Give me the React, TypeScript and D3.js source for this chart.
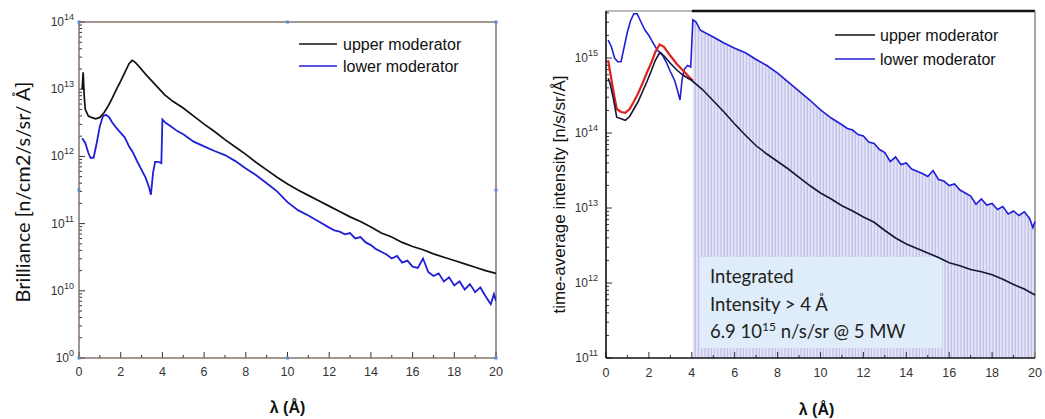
import React from "react";
import * as d3 from "d3";

// ---------- DATA (log10 of the plotted values) ----------
// Left panel: Brilliance
const leftUpperLambda = [0.15, 0.2, 0.25, 0.3, 0.45, 0.6, 0.8, 1.0, 1.2, 1.4, 1.6, 1.8, 2.0, 2.2, 2.4, 2.55, 2.7, 2.9, 3.2, 3.5, 3.8, 4.1, 4.5, 5.0, 5.5, 6.0, 6.5, 7.0, 7.5, 8.0, 8.5, 9.0, 9.5, 10, 10.5, 11, 11.5, 12, 12.5, 13, 13.5, 14, 14.5, 15, 15.5, 16, 16.5, 17, 17.5, 18, 18.5, 19, 19.5, 20];
const leftUpperLog = [13.0, 13.25, 12.9, 12.7, 12.6, 12.58, 12.56, 12.58, 12.65, 12.75, 12.87, 13.0, 13.12, 13.25, 13.38, 13.43, 13.4, 13.33, 13.22, 13.12, 13.02, 12.92, 12.82, 12.72, 12.6, 12.48, 12.37, 12.25, 12.14, 12.03, 11.91, 11.8, 11.69, 11.59, 11.5, 11.42, 11.34, 11.26, 11.18, 11.1, 11.03, 10.95, 10.86, 10.8, 10.72, 10.66, 10.61, 10.55, 10.5, 10.45, 10.4, 10.35, 10.3, 10.26];

const leftLowerLambda = [0.15, 0.3, 0.45, 0.55, 0.7, 0.85, 1.0, 1.15, 1.3, 1.45, 1.6, 1.8, 2.0, 2.2, 2.4, 2.6, 2.8, 3.0, 3.2, 3.35, 3.45, 3.55, 3.65, 3.8, 3.95, 4.0, 4.15, 4.4, 4.7, 5.0, 5.5, 6.0, 6.5, 7.0, 7.5, 8.0, 8.5, 9.0, 9.5, 10, 10.5, 11, 11.5, 12.0, 12.25, 12.5, 12.75, 13.0, 13.25, 13.5, 13.75, 14.0, 14.25, 14.5, 14.75, 15.0, 15.25, 15.5, 15.75, 16.0, 16.25, 16.5, 16.75, 17.0, 17.25, 17.5, 17.75, 18.0, 18.25, 18.5, 18.75, 19.0, 19.25, 19.5, 19.75, 19.9, 20];
const leftLowerLog = [12.27, 12.2, 12.05, 11.98, 11.98, 12.2, 12.45, 12.6, 12.62, 12.58, 12.5, 12.42, 12.35, 12.28, 12.15, 12.05, 11.92, 11.8, 11.68, 11.55, 11.43, 11.75, 11.92, 11.92, 11.9, 12.55, 12.5, 12.45, 12.38, 12.33, 12.22, 12.15, 12.08, 12.02, 11.93, 11.82, 11.72, 11.6, 11.48, 11.32, 11.2, 11.12, 11.03, 10.94, 10.9, 10.88, 10.84, 10.86, 10.78, 10.8, 10.72, 10.68, 10.62, 10.58, 10.54, 10.48, 10.52, 10.42, 10.45, 10.36, 10.34, 10.48, 10.28, 10.22, 10.26, 10.14, 10.2, 10.08, 10.14, 10.02, 10.1, 9.98, 10.05, 9.92, 9.8, 9.95, 9.85];

// Right panel: time-average intensity
const rightUpperLambda = [0.1, 0.2, 0.35, 0.5, 0.7, 0.9, 1.1, 1.3, 1.5, 1.7, 1.9, 2.1, 2.3, 2.5, 2.7, 3.0, 3.3, 3.6, 4.0, 4.5, 5.0, 5.5, 6.0, 6.5, 7.0, 7.5, 8.0, 8.5, 9.0, 9.5, 10, 10.5, 11, 11.5, 12, 12.5, 13, 13.5, 14, 14.5, 15, 15.5, 16, 16.5, 17, 17.5, 18, 18.5, 19, 19.5, 20];
const rightUpperLog = [14.73, 14.65, 14.45, 14.21, 14.19, 14.17, 14.22, 14.32, 14.42, 14.55, 14.68, 14.82, 14.97, 15.07, 15.03, 14.93, 14.84, 14.77, 14.7, 14.58, 14.43, 14.28, 14.12, 13.97, 13.83, 13.72, 13.62, 13.52, 13.41, 13.3, 13.2, 13.12, 13.03, 12.96, 12.88, 12.81, 12.7, 12.6, 12.52, 12.46, 12.4, 12.34, 12.27, 12.23, 12.18, 12.15, 12.11, 12.05, 11.98, 11.92, 11.84];

const rightRedLambda = [0.1, 0.2, 0.35, 0.5, 0.7, 0.9, 1.1, 1.3, 1.5, 1.7, 1.9, 2.1, 2.3, 2.5, 2.7, 3.0, 3.3, 3.6, 3.9, 4.05];
const rightRedLog = [14.97, 14.8, 14.55, 14.32, 14.28, 14.27, 14.32, 14.42, 14.53, 14.66, 14.8, 14.93, 15.08, 15.18, 15.15, 15.03, 14.92, 14.83, 14.74, 14.7];

const rightLowerLambda = [0.1, 0.25, 0.4, 0.55, 0.7, 0.85, 1.0, 1.15, 1.3, 1.45, 1.6, 1.8, 2.0, 2.2, 2.4, 2.6, 2.8, 3.0, 3.2, 3.35, 3.45, 3.55, 3.65, 3.8, 3.95, 4.05, 4.2, 4.4, 5.0, 5.5, 6.0, 6.5, 7.0, 7.5, 8.0, 8.5, 9.0, 9.5, 10, 10.5, 11.0, 11.25, 11.5, 11.75, 12.0, 12.25, 12.5, 12.75, 13.0, 13.25, 13.5, 13.75, 14.0, 14.25, 14.5, 14.75, 15.0, 15.25, 15.5, 15.75, 16.0, 16.25, 16.5, 16.75, 17.0, 17.25, 17.5, 17.75, 18.0, 18.25, 18.5, 18.75, 19.0, 19.25, 19.5, 19.75, 19.9, 20];
const rightLowerLog = [15.24, 15.15, 15.0, 14.95, 14.95, 15.15, 15.35, 15.5, 15.59, 15.59, 15.5, 15.38, 15.3, 15.2, 15.1, 15.06, 14.95, 14.82, 14.7, 14.55, 14.44, 14.72, 14.85, 14.9, 14.88, 15.51, 15.48, 15.37, 15.28, 15.2, 15.13, 15.07, 14.98, 14.9, 14.8, 14.68, 14.56, 14.44, 14.31, 14.2, 14.11, 14.06, 14.04, 13.98, 13.96, 13.88, 13.86, 13.78, 13.74, 13.62, 13.68, 13.58, 13.6, 13.52, 13.49, 13.46, 13.42, 13.5, 13.38, 13.36, 13.3, 13.32, 13.24, 13.2, 13.16, 13.05, 13.12, 13.04, 13.06, 12.98, 13.02, 12.92, 12.96, 12.9, 12.95, 12.86, 12.74, 12.82];

const xTickValues = [0, 2, 4, 6, 8, 10, 12, 14, 16, 18, 20];
const leftYTickValues = [1e14, 1e13, 1e12, 1e11, 1e10, 1e9];
const leftYTickExp = ["14", "13", "12", "11", "10", "0"];
const rightYTickValues = [1e15, 1e14, 1e13, 1e12, 1e11];
const rightYTickExp = ["15", "14", "13", "12", "11"];
const legendLabels = ["upper moderator", "lower moderator"];
const annotationLines = ["Integrated", "Intensity > 4 Å"];
const integratedShadeStart = 4.05;

const ARIAL = "'Liberation Sans', Arial, sans-serif";
const CALIBRI = "Lato, 'Open Sans', sans-serif";

function zip(l: number[], v: number[]): [number, number][] {
  return l.map((x, i) => [x, Math.pow(10, v[i])]);
}

export default function App() {
  const xL = d3.scaleLinear().domain([0, 20]).range([79, 496]);
  const yL = d3.scaleLog().domain([1e9, 1e14]).range([358, 22]);
  const xR = d3.scaleLinear().domain([0, 20]).range([606, 1035]);
  const yR = d3.scaleLog().domain([1e11, Math.pow(10, 15.627)]).range([358, 11]);

  const lineL = d3.line<[number, number]>().x((d) => xL(d[0])).y((d) => yL(d[1]));
  const lineR = d3.line<[number, number]>().x((d) => xR(d[0])).y((d) => yR(d[1]));

  const lu = zip(leftUpperLambda, leftUpperLog);
  const ll = zip(leftLowerLambda, leftLowerLog);
  const ru = zip(rightUpperLambda, rightUpperLog);
  const rr = zip(rightRedLambda, rightRedLog);
  const rl = zip(rightLowerLambda, rightLowerLog);

  const shade = d3
    .area<[number, number]>()
    .x((d) => xR(d[0]))
    .y0(yR.range()[0])
    .y1((d) => yR(d[1]))(rl.filter((d) => d[0] >= integratedShadeStart));

  const axisCol = "#7b6a5f";
  const [lb, lt] = yL.range();
  const [rb, rt] = yR.range();

  const leftMinor = yL.ticks();
  const rightMinor = yR.ticks();
  const xMinor = d3.range(1, 20, 2);

  const sup = (base: string, exp: string) => (
    <>
      <tspan>{base}</tspan>
      <tspan dy={-6} fontSize={9}>
        {exp}
      </tspan>
    </>
  );

  const handles: [number, number][] = [
    [xL(0), lt], [xL(10), lt], [xL(20), lt],
    [xL(0), (lt + lb) / 2], [xL(20), (lt + lb) / 2],
    [xL(0), lb], [xL(10), lb], [xL(20), lb],
  ];

  return (
    <svg
      width={1045}
      height={419}
      style={{ position: "absolute", left: 0, top: 0, background: "#fff" }}
    >
      <defs>
        <pattern id="hatch" width={3.2} height={10} patternUnits="userSpaceOnUse">
          <rect width={3.2} height={10} fill="#e4e4f7" />
          <line x1={1} y1={0} x2={1} y2={10} stroke="#b6b6e4" strokeWidth={1} />
        </pattern>
        <clipPath id="clipL">
          <rect x={xL(0)} y={lt} width={xL(20) - xL(0)} height={lb - lt} />
        </clipPath>
      </defs>

      {/* ================= LEFT PANEL ================= */}
      {leftMinor.map((t, i) => {
        const major = Math.abs(Math.log10(t) - Math.round(Math.log10(t))) < 1e-6;
        return (
          <line key={"lym" + i} x1={xL(0)} x2={xL(0) + (major ? 6 : 3)} y1={yL(t)} y2={yL(t)} stroke="#333" strokeWidth={1} />
        );
      })}
      {xTickValues.map((t) => (
        <line key={"lxM" + t} x1={xL(t)} x2={xL(t)} y1={lb} y2={lb - 6} stroke="#333" strokeWidth={1} />
      ))}
      {xMinor.map((t) => (
        <line key={"lxm" + t} x1={xL(t)} x2={xL(t)} y1={lb} y2={lb - 3} stroke="#333" strokeWidth={1} />
      ))}
      <rect x={xL(0)} y={lt} width={xL(20) - xL(0)} height={lb - lt} fill="none" stroke={axisCol} strokeWidth={1.4} />

      <g clipPath="url(#clipL)">
        <path d={lineL(lu) || ""} fill="none" stroke="#111" strokeWidth={1.7} />
        <path d={lineL(ll) || ""} fill="none" stroke="#1f1fd6" strokeWidth={1.8} />
      </g>

      {handles.map((h, i) => (
        <rect key={"h" + i} x={h[0] - 1.5} y={h[1] - 1.5} width={3} height={3} fill="#5a8ad2" />
      ))}

      {leftYTickValues.map((t, i) => (
        <text key={"lyl" + i} x={74} y={yL(t) + 4} textAnchor="end" fontFamily={ARIAL} fontSize={12} fill="#333">
          {sup("10", leftYTickExp[i])}
        </text>
      ))}
      {xTickValues.map((t) => (
        <text key={"lxl" + t} x={xL(t)} y={376} textAnchor="middle" fontFamily={ARIAL} fontSize={12.5} fill="#333">
          {t}
        </text>
      ))}
      <text x={xL(10)} y={413} textAnchor="middle" fontFamily={ARIAL} fontSize={16} fontWeight="bold" fill="#111">
        λ (Å)
      </text>
      <text
        transform={`translate(30,${(lt + lb) / 2 + 2}) rotate(-90)`}
        textAnchor="middle"
        fontFamily={CALIBRI}
        fontSize={20}
        fill="#111"
      >
        Brilliance [n/cm2/s/sr/ Å]
      </text>

      <line x1={299} x2={337} y1={44} y2={44} stroke="#111" strokeWidth={1.6} />
      <line x1={299} x2={337} y1={66} y2={66} stroke="#1f1fd6" strokeWidth={1.6} />
      <text x={343} y={49.5} fontFamily={ARIAL} fontSize={16} fill="#111">{legendLabels[0]}</text>
      <text x={343} y={71.5} fontFamily={ARIAL} fontSize={16} fill="#111">{legendLabels[1]}</text>

      {/* ================= RIGHT PANEL ================= */}
      <path d={shade || ""} fill="url(#hatch)" stroke="none" />

      {rightMinor.map((t, i) => {
        const major = Math.abs(Math.log10(t) - Math.round(Math.log10(t))) < 1e-6;
        return (
          <line key={"rym" + i} x1={xR(0)} x2={xR(0) + (major ? 6 : 3)} y1={yR(t)} y2={yR(t)} stroke="#333" strokeWidth={1} />
        );
      })}
      {xTickValues.map((t) => (
        <line key={"rxM" + t} x1={xR(t)} x2={xR(t)} y1={rb} y2={rb - 6} stroke="#333" strokeWidth={1} />
      ))}
      {xMinor.map((t) => (
        <line key={"rxm" + t} x1={xR(t)} x2={xR(t)} y1={rb} y2={rb - 3} stroke="#333" strokeWidth={1} />
      ))}

      <line x1={xR(0)} x2={xR(4)} y1={rt} y2={rt} stroke="#777" strokeWidth={1} />
      <line x1={xR(4)} x2={xR(20)} y1={rt} y2={rt} stroke="#111" strokeWidth={2.4} />
      <line x1={xR(20)} x2={xR(20)} y1={rt} y2={rb} stroke="#888" strokeWidth={1.5} />
      <line x1={xR(0)} x2={xR(0)} y1={rt} y2={rb} stroke="#111" strokeWidth={1.6} />
      <line x1={xR(0)} x2={xR(20)} y1={rb} y2={rb} stroke="#111" strokeWidth={1.6} />

      <rect x={700} y={257} width={242} height={91} fill="#deedf9" />
      <text fontFamily={CALIBRI} fontSize={18.5} fill="#222">
        <tspan x={710} y={283}>{annotationLines[0]}</tspan>
        <tspan x={710} y={311}>{annotationLines[1]}</tspan>
        <tspan x={710} y={338}>6.9 10</tspan>
        <tspan dy={-7} fontSize={12}>15</tspan>
        <tspan dy={7}> n/s/sr @ 5 MW</tspan>
      </text>

      <path d={lineR(rl) || ""} fill="none" stroke="#1f1fd6" strokeWidth={1.6} />
      <path d={lineR(rr) || ""} fill="none" stroke="#e0201c" strokeWidth={2.2} />
      <path d={lineR(ru) || ""} fill="none" stroke="#15153a" strokeWidth={1.6} />

      {rightYTickValues.map((t, i) => (
        <text key={"ryl" + i} x={598} y={yR(t) + 4} textAnchor="end" fontFamily={ARIAL} fontSize={12} fill="#333">
          {sup("10", rightYTickExp[i])}
        </text>
      ))}
      {xTickValues.map((t) => (
        <text key={"rxl" + t} x={xR(t)} y={377} textAnchor="middle" fontFamily={ARIAL} fontSize={12.5} fill="#333">
          {t}
        </text>
      ))}
      <text x={xR(10) - 4} y={415} textAnchor="middle" fontFamily={ARIAL} fontSize={16} fontWeight="bold" fill="#111">
        λ (Å)
      </text>
      <text
        transform={`translate(565,${(rt + rb) / 2 + 10}) rotate(-90)`}
        textAnchor="middle"
        fontFamily={ARIAL}
        fontSize={17}
        fill="#111"
      >
        time-average intensity [n/s/sr/Å]
      </text>

      <line x1={835} x2={875} y1={35} y2={35} stroke="#111" strokeWidth={1.3} />
      <line x1={835} x2={875} y1={59} y2={59} stroke="#1f1fd6" strokeWidth={1.6} />
      <text x={880} y={41} fontFamily={ARIAL} fontSize={16} fill="#111">{legendLabels[0]}</text>
      <text x={880} y={65} fontFamily={ARIAL} fontSize={16} fill="#111">{legendLabels[1]}</text>
    </svg>
  );
}
